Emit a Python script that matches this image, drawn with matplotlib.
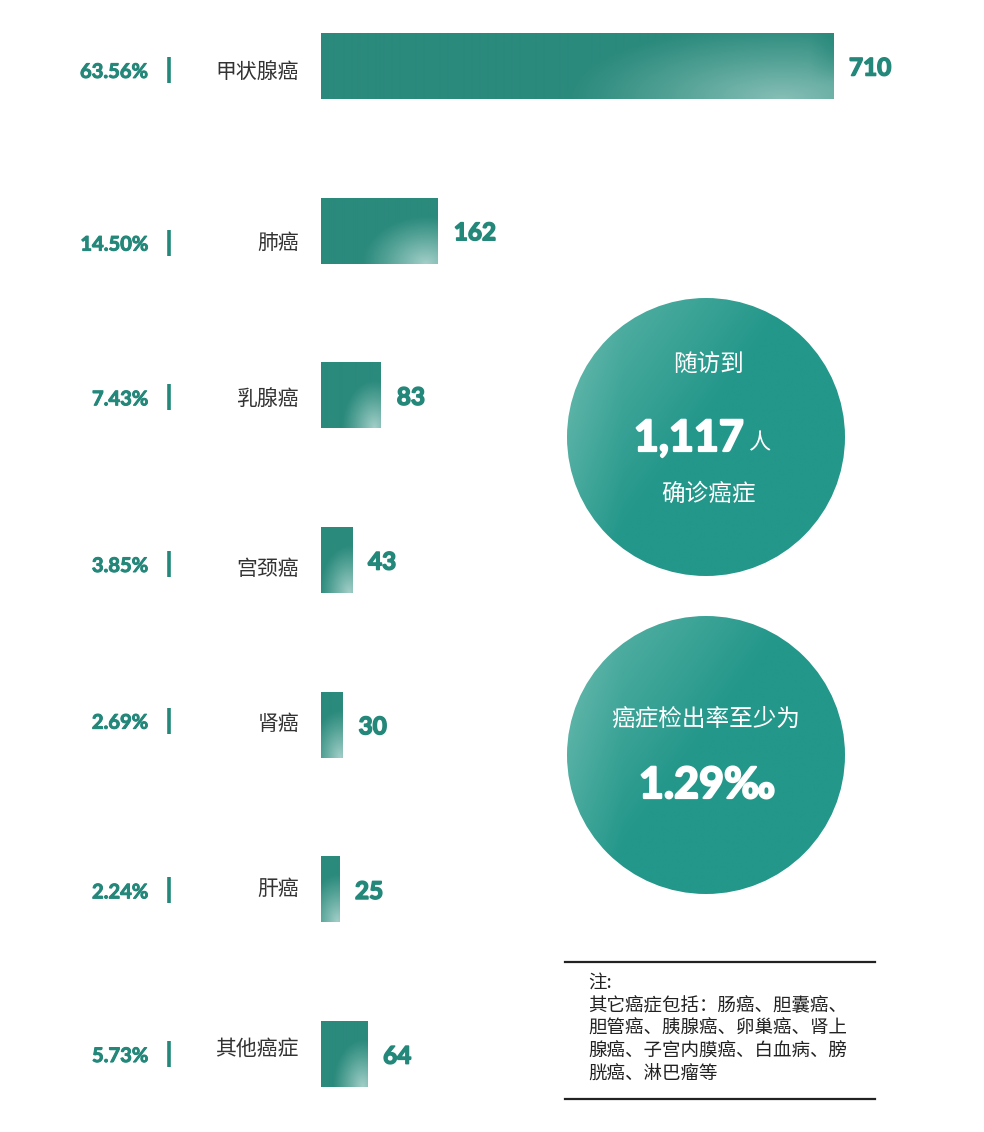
import numpy as np
import matplotlib
matplotlib.use("Agg")
import matplotlib.pyplot as plt
import matplotlib.patheffects as pe
from matplotlib.patches import Circle
from matplotlib.transforms import blended_transform_factory
from matplotlib.colors import to_rgb

plt.rcParams['font.family'] = ['Noto Sans CJK SC', 'DejaVu Sans']

categories = ["甲状腺癌", "肺癌", "乳腺癌", "宫颈癌", "肾癌", "肝癌", "其他癌症"]
counts = [710, 162, 83, 43, 30, 25, 64]
percents = ["63.56%", "14.50%", "7.43%", "3.85%", "2.69%", "2.24%", "5.73%"]
total_text = "1,117"
rate_text = "1.29‰"
note_lines = ["注:", "其它癌症包括：肠癌、胆囊癌、", "胆管癌、胰腺癌、卵巢癌、肾上",
              "腺癌、子宫内膜癌、白血病、膀", "胱癌、淋巴瘤等"]

# layout: vertical pixel offsets of the left label group per row
row_off_px = [4, 12, 2, 4, -4, 1, 0]
cat_off_px = [0, -2, 0, 3, 1, -3, -7]

TEAL = "#2a8a7c"
PCT = "#23877a"
NUMFONT = ['Lato', 'DejaVu Sans']
heavy_pct = [pe.withStroke(linewidth=0.7, foreground=PCT)]
heavy_teal = [pe.withStroke(linewidth=1.1, foreground=PCT)]
heavy_white = [pe.withStroke(linewidth=1.6, foreground='white')]
W, H = 984, 1132
fig = plt.figure(figsize=(W / 100, H / 100), dpi=100)

ax2 = fig.add_axes([0, 0, 1, 1])
ax2.set_xlim(0, W)
ax2.set_ylim(H, 0)
ax2.axis('off')

ax = fig.add_axes([321 / W, 1 - 1087 / H, 512 / W, (1087 - 33) / H])
ax.set_xlim(0, 710)
ax.set_ylim(6.2, -0.2)
ax.axis('off')
ax.patch.set_alpha(0)
unit_px = (1087 - 33) / 6.4

base = np.array(to_rgb(TEAL))
light = np.array(to_rgb("#c4e2dd"))
ypos = np.arange(len(categories))
bars = ax.barh(ypos, counts, height=0.4, color=TEAL, zorder=2)
px_per_unit = 512 / 710
for b, v, y in zip(bars, counts, ypos):
    wpx = v * px_per_unit
    hpx = 66
    nx, ny = max(int(wpx), 2), 66
    u = np.linspace(0, wpx, nx)[None, :]
    vv = np.linspace(0, hpx, ny)[:, None]
    if wpx > 300:
        rx, ry, cx, amp = 0.42 * wpx, 75, 0.9 * wpx, 0.6
    else:
        rx, ry, cx, amp = max(0.55 * wpx, 30), 48, wpx * 0.9, 0.78
    d = np.sqrt(((u - cx) / rx) ** 2 + ((vv - hpx) / ry) ** 2)
    f = np.clip(1 - d, 0, 1) ** 1.1 * amp
    if wpx > 300:
        edge = np.clip(1 - (wpx - u) / 25, 0, 1) * np.clip(1 - vv / 50, 0, 1)
        f = f * (1 - edge)
    img = base[None, None, :] * (1 - f[..., None]) + light[None, None, :] * f[..., None]
    im = ax.imshow(img, extent=(0, v, y + 0.2, y - 0.2), aspect='auto', zorder=3,
                   interpolation='bilinear')
    im.set_clip_path(b)

ax.set_xlim(0, 710)
ax.set_ylim(6.2, -0.2)

tr = blended_transform_factory(ax2.transData, ax.transData)
for y, cat, pct, v, ro, co in zip(ypos, categories, percents, counts, row_off_px, cat_off_px):
    yg = y + (ro + 2) / unit_px
    ax.text(148, yg, pct, transform=tr, ha='right', va='center', fontsize=14.5,
            fontweight='bold', color=PCT, family=NUMFONT, path_effects=heavy_pct)
    yl = y + ro / unit_px
    ax.plot([169, 169], [yl - 13 / unit_px, yl + 13 / unit_px], transform=tr,
            color=PCT, lw=2.6, solid_capstyle='butt', clip_on=False)
    ax.text(299, yg + co / unit_px, cat, transform=tr, ha='right', va='center',
            fontsize=15, color='#333333')
    ax.annotate(str(v), (v, y), xytext=(11.5, -1.5), textcoords='offset points',
                ha='left', va='center', fontsize=17.5, fontweight='bold', color=PCT,
                family=NUMFONT, annotation_clip=False, path_effects=heavy_teal)

cbase = np.array(to_rgb("#23978a"))
clight = np.array(to_rgb("#78c2b6"))
def grad_circle(cx, cy, r):
    n = 300
    xs = np.linspace(-1, 1, n)[None, :]
    ys = np.linspace(-1, 1, n)[:, None]
    t = np.clip(-(xs * 0.75 + ys * 0.55) * 0.6 - 0.05, 0, 1)
    t = t + np.clip(-xs - 0.6, 0, 1) * 0.5
    t = np.clip(t, 0, 0.8)
    img = cbase[None, None, :] * (1 - t[..., None]) + clight[None, None, :] * t[..., None]
    circ = Circle((cx, cy), r, facecolor='none', edgecolor='none')
    ax2.add_patch(circ)
    im = ax2.imshow(img, extent=(cx - r, cx + r, cy + r, cy - r), aspect='auto',
                    interpolation='bilinear', zorder=1)
    im.set_clip_path(circ)

grad_circle(706, 437, 139)
grad_circle(706, 755, 139)
ax2.set_xlim(0, W)
ax2.set_ylim(H, 0)

ax2.text(709, 365, "随访到", ha='center', va='center', fontsize=17, color='white', zorder=5)
ax2.text(744, 438, total_text, ha='right', va='center', fontsize=31, fontweight='bold',
         color='white', family=NUMFONT, zorder=5, path_effects=heavy_white)
ax2.text(748, 443, "人", ha='left', va='center', fontsize=16, color='white', zorder=5)
ax2.text(708, 494, "确诊癌症", ha='center', va='center', fontsize=17, color='white', zorder=5)
ax2.text(706, 719, "癌症检出率至少为", ha='center', va='center', fontsize=17,
         color='white', zorder=5)
ax2.text(707, 785, rate_text, ha='center', va='center', fontsize=31, fontweight='bold',
         color='white', family=NUMFONT, zorder=5, path_effects=heavy_white)

ax2.plot([565, 875], [962, 962], color='#222222', lw=1.6)
ax2.plot([565, 875], [1099, 1099], color='#222222', lw=1.6)
for k, line in enumerate(note_lines):
    ax2.text(588, 983 + k * 23.0, line, ha='left', va='center', fontsize=13.3,
             color='#222222')

fig.savefig("out.png", dpi=100)
